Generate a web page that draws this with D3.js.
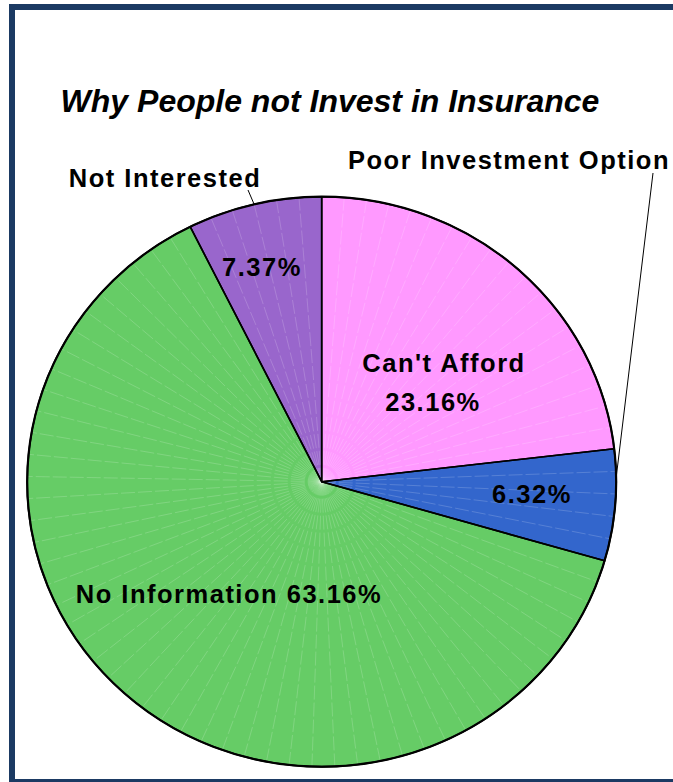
<!DOCTYPE html>
<html>
<head>
<meta charset="utf-8">
<script src="https://cdn.jsdelivr.net/npm/d3@7"></script>
<style>
  html, body { margin: 0; padding: 0; background: #fff; }
  svg { display: block; }
  text { font-family: "Liberation Sans", Arial, sans-serif; font-weight: bold; fill: #000; }
</style>
</head>
<body>
<script>
// Survey results: reasons people give for not investing in insurance
const categories = ["Can't Afford", "Poor Investment Option", "No Information", "Not Interested"];
const shares = [23.16, 6.32, 63.16, 7.37];
const sliceColors = ["#ff99ff", "#3366cc", "#66cc66", "#9966cc"];
const chartTitle = "Why People not Invest in Insurance";

const W = 673, H = 782;
const cx = 321.7, cy = 481.7, rx = 294.5, ry = 285;

// Label placement for each category (label text anchors and optional leader lines)
const labelLayout = {
  "Can't Afford":           { lines: [[444, 372, "name"], [433, 411, "pct"]] },
  "Poor Investment Option": { lines: [[509, 169, "name"], [532, 503, "pct"]], leader: [[653, 173], [616, 479]] },
  "No Information":         { lines: [[229, 603, "both"]] },
  "Not Interested":         { lines: [[165, 187, "name"], [262, 276, "pct"]], leader: [[248, 190], [254, 204]] }
};

const data = categories.map((c, i) => ({ name: c, value: shares[i], color: sliceColors[i] }));

const svg = d3.select("body").append("svg").attr("width", W).attr("height", H);

// Frame
svg.append("rect")
  .attr("x", 12).attr("y", 7).attr("width", 700).attr("height", 775)
  .attr("fill", "none").attr("stroke", "#1b3a63").attr("stroke-width", 6);

// Title
svg.append("text")
  .attr("x", 330).attr("y", 112)
  .attr("text-anchor", "middle")
  .style("font-size", "32px").style("font-style", "italic")
  .text(chartTitle);

const pie = d3.pie().sort(null).value(d => d.value);
const arcs = pie(data);
const arc = d3.arc().innerRadius(0).outerRadius(rx);

// Pie is drawn as a slightly flattened ellipse
const g = svg.append("g").attr("transform", `translate(${cx},${cy}) scale(1,${ry / rx})`);

g.selectAll("path.slice").data(arcs).join("path")
  .attr("class", "slice")
  .attr("d", arc)
  .attr("fill", d => d.data.color);

// Faint radial shading lines inside each slice
const rays = [];
arcs.forEach(a => {
  const n = Math.max(1, Math.round((a.endAngle - a.startAngle) / (Math.PI / 40)));
  for (let k = 1; k < n; k++) rays.push(a.startAngle + (a.endAngle - a.startAngle) * k / n);
});
g.selectAll("line.ray").data(rays).join("line")
  .attr("class", "ray")
  .attr("x1", 0).attr("y1", 0)
  .attr("x2", a => rx * Math.sin(a)).attr("y2", a => -rx * Math.cos(a))
  .attr("stroke", "#fff").attr("stroke-opacity", 0.25)
  .attr("stroke-width", 0.7).attr("stroke-dasharray", "14 3")
  .attr("vector-effect", "non-scaling-stroke");

// Slice outlines
g.selectAll("path.edge").data(arcs).join("path")
  .attr("class", "edge")
  .attr("d", arc)
  .attr("fill", "none").attr("stroke", "#000").attr("stroke-width", 1.6)
  .attr("stroke-linejoin", "round")
  .attr("vector-effect", "non-scaling-stroke");

// Heavier outer rim
g.append("ellipse")
  .attr("rx", rx).attr("ry", rx)
  .attr("fill", "none").attr("stroke", "#000").attr("stroke-width", 2.2)
  .attr("vector-effect", "non-scaling-stroke");

// Labels
const fmt = v => v.toFixed(2) + "%";
data.forEach(d => {
  const lay = labelLayout[d.name];
  lay.lines.forEach(([x, y, kind]) => {
    const txt = kind === "name" ? d.name : kind === "pct" ? fmt(d.value) : `${d.name} ${fmt(d.value)}`;
    svg.append("text")
      .attr("x", x).attr("y", y)
      .attr("text-anchor", "middle")
      .style("font-size", "25.5px").style("letter-spacing", "1.5px")
      .text(txt);
  });
  if (lay.leader) {
    svg.append("path")
      .attr("d", d3.line()(lay.leader))
      .attr("fill", "none").attr("stroke", "#000").attr("stroke-width", 1);
  }
});
</script>
</body>
</html>
